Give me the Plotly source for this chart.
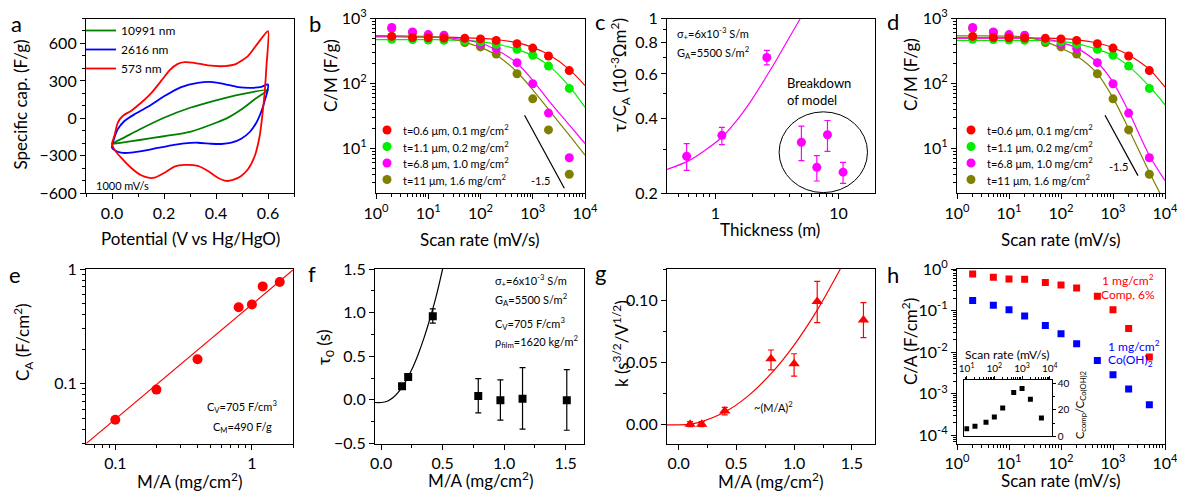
import plotly.graph_objects as go
import math

W, H = 1177, 494
FONT = "Lato"

# ---------------- data ----------------
# (a) CV loops at 1000 mV/s
cv_green_v = [0.0, 0.05, 0.1, 0.2, 0.3, 0.4, 0.5, 0.6, 0.55, 0.5, 0.45, 0.4, 0.3, 0.2, 0.1, 0.05, 0.0]
cv_green_c = [-203, -150, -95, 5, 85, 145, 195, 228, 155, 75, 10, -35, -108, -143, -175, -190, -203]
cv_blue_v = [0, 0.009, 0.022, 0.048, 0.086, 0.138, 0.202, 0.266, 0.33, 0.388, 0.433, 0.485, 0.536, 0.575, 0.6,
             0.598, 0.587, 0.575, 0.555, 0.53, 0.497, 0.459, 0.42, 0.382, 0.33, 0.279, 0.228, 0.176, 0.125,
             0.073, 0.035, 0.009, 0]
cv_blue_c = [-235, -155, -88, -21, 32, 93, 179, 251, 285, 291, 275, 251, 245, 253, 272,
             219, 139, 59, -35, -109, -163, -195, -205, -203, -195, -200, -216, -237, -259,
             -275, -275, -253, -235]
cv_red_v = [0, 0.009, 0.022, 0.041, 0.073, 0.112, 0.15, 0.189, 0.221, 0.253, 0.279, 0.317, 0.369, 0.433,
            0.478, 0.523, 0.562, 0.6, 0.594, 0.587, 0.578, 0.568, 0.549, 0.523, 0.497, 0.465, 0.44, 0.407,
            0.369, 0.33, 0.279, 0.24, 0.202, 0.163, 0.144, 0.112, 0.073, 0.035, 0.009, 0]
cv_red_c = [-203, -141, -35, 19, 60, 125, 200, 300, 385, 437, 451, 445, 424, 419,
            437, 499, 605, 699, 419, 205, 19, -141, -301, -408, -461, -493, -501, -475,
            -421, -381, -373, -387, -435, -475, -477, -456, -395, -315, -248, -203]
cv_labels = ["10991 nm", "2616 nm", "573 nm"]

# (b, d) specific capacitance vs scan rate
scan = [2, 5, 10, 20, 50, 100, 200, 500, 1000, 2000, 5000]
cm_t06 = [530, 510, 505, 500, 495, 485, 460, 410, 350, 265, 158]
cm_t11 = [479, 475, 465, 462, 455, 436, 401, 336, 271, 185, 84]
cm_t68 = [726, 622, 566, 552, 465, 400, 344, 209, 99, 35, 7.2]
cm_t110 = [700, 608, 552, 520, 426, 365, 283, 141, 58, 19.3, 4.0]
series_labels = ["t=0.6 μm, 0.1 mg/cm<sup>2</sup>", "t=1.1 μm, 0.2 mg/cm<sup>2</sup>",
                 "t=6.8 μm, 1.0 mg/cm<sup>2</sup>", "t=11 μm, 1.6 mg/cm<sup>2</sup>"]
fit_x = [1, 3, 10, 20, 50, 100, 200, 500, 1000, 2000, 5000, 10000]
fitb_t06 = [525, 524, 520, 516, 505, 495, 475, 425, 360, 280, 165, 93]
fitb_t11 = [473, 473, 472, 470, 460, 440, 405, 335, 268, 190, 90, 43]
fitb_t68 = [525, 524, 520, 512, 470, 420, 330, 205, 112, 55, 23, 11.9]
fitb_t110 = [545, 542, 530, 510, 430, 360, 275, 150, 80, 40, 16, 7.9]
fitd_t06 = [505, 505, 505, 503, 498, 490, 470, 420, 355, 275, 165, 88]
fitd_t11 = [460, 460, 460, 459, 455, 445, 410, 335, 270, 185, 90, 47]
fitd_t68 = [500, 500, 500, 498, 480, 430, 350, 210, 105, 37, 7.8, 3.2]
fitd_t110_x = [1, 3, 10, 20, 50, 100, 200, 500, 1000, 2000, 5000, 8000]
fitd_t110 = [540, 540, 535, 520, 440, 350, 265, 142, 60, 20, 4.3, 2.04]
slope_b_x = [697, 4018]
slope_b_y = [32.4, 2.44]
slope_d_x = [702, 3020]
slope_d_y = [32.4, 3.82]
slope_b_lbl = (1393, 3.16)
slope_d_lbl = (1250, 5.27)

# (c) tau / C_A vs thickness
thick = [0.585, 1.13, 2.62, 5.0, 6.67, 8.14, 10.9]
tau_ca = [0.281, 0.341, 0.698, 0.32, 0.254, 0.343, 0.243]
tau_ca_hi = [0.035, 0.026, 0.047, 0.051, 0.029, 0.048, 0.023]
tau_ca_lo = [0.034, 0.028, 0.046, 0.050, 0.030, 0.049, 0.024]
fitc_x = [0.405, 0.6, 0.8, 1.13, 1.5, 2.0, 2.62, 3.2, 4.0, 4.9]
fitc_y = [0.249, 0.269, 0.294, 0.335, 0.392, 0.477, 0.59, 0.695, 0.842, 1.0]

# (e) areal capacitance vs mass loading
ma = [0.1, 0.2, 0.4, 0.8, 1.0, 1.2, 1.6]
ca = [0.0483, 0.0886, 0.163, 0.464, 0.49, 0.705, 0.769]
fite_x = [0.06, 2.0]
fite_y = [0.0294, 0.98]

# (f) tau0 vs mass loading
f_ma = [0.17, 0.22, 0.42, 0.79, 0.97, 1.15, 1.51]
tau0 = [0.155, 0.262, 0.959, 0.045, -0.005, 0.014, -0.005]
tau0_hi = [0, 0, 0.084, 0.198, 0.235, 0.355, 0.351]
tau0_lo = [0, 0, 0.080, 0.195, 0.228, 0.350, 0.343]
fitf_x = [-0.05, 0.0, 0.05, 0.1, 0.15, 0.2, 0.25, 0.3, 0.35, 0.4, 0.45, 0.5]
fitf_y = [-0.03, -0.03, -0.015, 0.03, 0.107, 0.214, 0.35, 0.518, 0.716, 0.944, 1.2, 1.5]

# (g) k vs mass loading
k_val = [0.0005, 0.0005, 0.011, 0.053, 0.049, 0.099, 0.084]
k_hi = [0.002, 0.002, 0.003, 0.007, 0.008, 0.016, 0.014]
k_lo = [0.002, 0.002, 0.003, 0.009, 0.010, 0.017, 0.014]
fitg_x = [-0.1, 0.0, 0.1, 0.2, 0.4, 0.6, 0.8, 1.0, 1.2, 1.4]
fitg_y = [0.0, 0.0, 0.0006, 0.0026, 0.0102, 0.023, 0.041, 0.064, 0.092, 0.125]

# (h) composite vs Co(OH)2
h_comp = [0.76, 0.63, 0.575, 0.565, 0.47, 0.41, 0.35, 0.22, 0.104, 0.037, 0.0076]
h_coh = [0.174, 0.134, 0.104, 0.074, 0.0437, 0.0275, 0.0158, 0.0063, 0.00286, 0.0013, 0.00054]
ratio_x = [10, 20, 50, 100, 200, 500, 1000, 2000, 5000]
ratio_y = [5.8, 7.6, 10.6, 14.7, 21.5, 33.2, 36.2, 28.1, 13.9]

C_RED, C_GRN, C_MAG, C_OLV = "#FF0000", "#00EE00", "#FF00FF", "#808000"

# ---------------- helpers ----------------
def X(px):
    return px / W

def Y(py):
    return 1 - py / H

def dx(a, b):
    return [X(a), X(b)]

def dy(top, bot):
    return [Y(bot), Y(top)]

def L(v):
    return math.log10(v)

def minors(decs, lo, hi):
    out = []
    for d in decs:
        for m in range(2, 10):
            v = m * 10 ** d
            if lo <= v <= hi:
                out.append(v)
    return out

TICK = 16
TITLE = 17

def axis(domain, anchor, **kw):
    base = dict(domain=domain, anchor=anchor, showline=True, linecolor="black", linewidth=1.2,
                mirror=True, ticks="outside", ticklen=5, tickwidth=1.2, tickcolor="black",
                showgrid=False, zeroline=False, automargin=False, ticklabeloverflow="allow",
                tickfont=dict(size=TICK, family=FONT, color="black"))
    base.update(kw)
    return base

def sup_labels(vals):
    return ["10<sup>%d</sup>" % round(L(v)) for v in vals]

fig = go.Figure()

# ---------------- panel a ----------------
for v, c, col, name in [(cv_green_v, cv_green_c, "#008000", cv_labels[0]),
                        (cv_blue_v, cv_blue_c, "#0000FF", cv_labels[1]),
                        (cv_red_v, cv_red_c, C_RED, cv_labels[2])]:
    fig.add_trace(go.Scatter(x=v, y=c, mode="lines", name=name, xaxis="x", yaxis="y",
                             line=dict(color=col, width=1.8, shape="spline", smoothing=0.6),
                             showlegend=True, legend="legend"))

# ---------------- panels b and d ----------------
cols = [C_RED, C_GRN, C_MAG, C_OLV]
pts = [cm_t06, cm_t11, cm_t68, cm_t110]
fits_b = [(fit_x, fitb_t06), (fit_x, fitb_t11), (fit_x, fitb_t68), (fit_x, fitb_t110)]
fits_d = [(fit_x, fitd_t06), (fit_x, fitd_t11), (fit_x, fitd_t68), (fitd_t110_x, fitd_t110)]
for xa, ya, fits, sx, sy in [("x2", "y2", fits_b, slope_b_x, slope_b_y),
                             ("x4", "y4", fits_d, slope_d_x, slope_d_y)]:
    for i in range(4):
        fig.add_trace(go.Scatter(x=fits[i][0], y=fits[i][1], mode="lines", xaxis=xa, yaxis=ya,
                                 line=dict(color=cols[i], width=1.2, shape="spline", smoothing=0.8),
                                 showlegend=False))
    for i in [3, 2, 1, 0]:
        fig.add_trace(go.Scatter(x=scan, y=pts[i], mode="markers", xaxis=xa, yaxis=ya,
                                 marker=dict(color=cols[i], size=9), showlegend=False))
    fig.add_trace(go.Scatter(x=sx, y=sy, mode="lines", xaxis=xa, yaxis=ya,
                             line=dict(color="black", width=1.2), showlegend=False))

# ---------------- panel c ----------------
fig.add_trace(go.Scatter(x=fitc_x, y=fitc_y, mode="lines", xaxis="x3", yaxis="y3",
                         line=dict(color=C_MAG, width=1.2, shape="spline", smoothing=0.8), showlegend=False))
fig.add_trace(go.Scatter(x=thick, y=tau_ca, mode="markers", xaxis="x3", yaxis="y3",
                         marker=dict(color=C_MAG, size=9),
                         error_y=dict(type="data", array=tau_ca_hi, arrayminus=tau_ca_lo,
                                      color=C_MAG, thickness=1.2, width=3),
                         showlegend=False))

# ---------------- panel e ----------------
fig.add_trace(go.Scatter(x=fite_x, y=fite_y, mode="lines", xaxis="x5", yaxis="y5",
                         line=dict(color=C_RED, width=1.2), showlegend=False))
fig.add_trace(go.Scatter(x=ma, y=ca, mode="markers", xaxis="x5", yaxis="y5",
                         marker=dict(color=C_RED, size=10), showlegend=False))

# ---------------- panel f ----------------
fig.add_trace(go.Scatter(x=fitf_x, y=fitf_y, mode="lines", xaxis="x6", yaxis="y6",
                         line=dict(color="black", width=1.2, shape="spline", smoothing=0.8), showlegend=False))
fig.add_trace(go.Scatter(x=f_ma, y=tau0, mode="markers", xaxis="x6", yaxis="y6",
                         marker=dict(color="black", size=8, symbol="square"),
                         error_y=dict(type="data", array=tau0_hi, arrayminus=tau0_lo,
                                      color="black", thickness=1.2, width=3),
                         showlegend=False))

# ---------------- panel g ----------------
fig.add_trace(go.Scatter(x=fitg_x, y=fitg_y, mode="lines", xaxis="x7", yaxis="y7",
                         line=dict(color=C_RED, width=1.2, shape="spline", smoothing=0.8), showlegend=False))
fig.add_trace(go.Scatter(x=ma, y=k_val, mode="markers", xaxis="x7", yaxis="y7",
                         marker=dict(color=C_RED, size=10, symbol="triangle-up"),
                         error_y=dict(type="data", array=k_hi, arrayminus=k_lo,
                                      color=C_RED, thickness=1.2, width=3),
                         showlegend=False))

# ---------------- panel h + inset ----------------
fig.add_trace(go.Scatter(x=scan, y=h_comp, mode="markers", xaxis="x8", yaxis="y8",
                         marker=dict(color=C_RED, size=7, symbol="square"), showlegend=False))
fig.add_trace(go.Scatter(x=scan, y=h_coh, mode="markers", xaxis="x8", yaxis="y8",
                         marker=dict(color="#0000FF", size=7, symbol="square"), showlegend=False))
fig.add_trace(go.Scatter(x=ratio_x, y=ratio_y, mode="markers", xaxis="x9", yaxis="y9",
                         marker=dict(color="black", size=5, symbol="square"), showlegend=False))

# ---------------- axes ----------------
dec_ticks = [1, 10, 100, 1000, 10000]
top_row = dy(18.5, 193.3)
bot_row = dy(269, 443.5)
mt = dict(ticks="outside", ticklen=3, tickcolor="black")
lay = {}
lay["xaxis"] = axis(dx(86, 294), "y", range=[-0.1, 0.7], dtick=0.2, tick0=0, tickformat=".1f",
                    minor=dict(dtick=0.1, **mt))
lay["yaxis"] = axis(top_row, "x", range=[-600, 800], dtick=300, tick0=0,
                    minor=dict(dtick=100, **mt))
for n, xd in [(2, dx(376, 585)), (4, dx(957, 1165))]:
    lay["xaxis%d" % n] = axis(xd, "y%d" % n, type="log", range=[0, 4], tickvals=dec_ticks,
                              ticktext=sup_labels(dec_ticks),
                              minor=dict(tickvals=minors(range(0, 4), 1, 1e4), **mt))
    lay["yaxis%d" % n] = axis(top_row, "x%d" % n, type="log", range=[L(2.04), 3],
                              tickvals=[10, 100, 1000], ticktext=sup_labels([10, 100, 1000]),
                              minor=dict(tickvals=minors(range(0, 3), 2.04, 1000), **mt))
lay["xaxis3"] = axis(dx(667, 875), "y3", type="log", range=[L(0.405), L(19.8)], tickvals=[1, 10],
                     ticktext=["1", "10"],
                     minor=dict(tickvals=minors([-1, 0, 1], 0.405, 19.8), **mt))
lay["yaxis3"] = axis(top_row, "x3", type="log", range=[L(0.2), 0], tickvals=[0.2, 0.4, 0.6, 0.8, 1],
                     ticktext=["0.2", "0.4", "0.6", "0.8", "1"],
                     minor=dict(tickvals=[0.3, 0.5, 0.7, 0.9], **mt))
lay["xaxis5"] = axis(dx(86, 293), "y5", type="log", range=[L(0.061), L(2.0)], tickvals=[0.1, 1],
                     ticktext=["0.1", "1"],
                     minor=dict(tickvals=minors([-2, -1, 0], 0.061, 2.0), **mt))
lay["yaxis5"] = axis(bot_row, "x5", type="log", range=[L(0.03), 0], tickvals=[0.1, 1],
                     ticktext=["0.1", "1"],
                     minor=dict(tickvals=minors([-2, -1], 0.03, 1.0), **mt))
lay["xaxis6"] = axis(dx(375, 584), "y6", range=[-0.05, 1.65], dtick=0.5, tick0=0, tickformat=".1f",
                     minor=dict(dtick=0.25, tick0=0, **mt))
lay["yaxis6"] = axis(bot_row, "x6", range=[-0.5, 1.5], dtick=0.5, tick0=0, tickformat=".1f",
                     minor=dict(dtick=0.25, tick0=0, **mt))
lay["xaxis7"] = axis(dx(667, 875), "y7", range=[-0.1, 1.7], dtick=0.5, tick0=0, tickformat=".1f",
                     minor=dict(dtick=0.25, tick0=0, **mt))
lay["yaxis7"] = axis(bot_row, "x7", range=[-0.015, 0.125], dtick=0.05, tick0=0, tickformat=".2f",
                     minor=dict(dtick=0.025, tick0=0, **mt))
lay["xaxis8"] = axis(dx(957, 1165), "y8", type="log", range=[0, 4], tickvals=dec_ticks,
                     ticktext=sup_labels(dec_ticks),
                     minor=dict(tickvals=minors(range(0, 4), 1, 1e4), **mt))
h_ticks = [1e-4, 1e-3, 1e-2, 1e-1, 1]
lay["yaxis8"] = axis(bot_row, "x8", type="log", range=[-4.2, 0], tickvals=h_ticks,
                     ticktext=["10<sup>-4</sup>", "10<sup>-3</sup>", "10<sup>-2</sup>",
                               "10<sup>-1</sup>", "10<sup>0</sup>"],
                     minor=dict(tickvals=minors([-5, -4, -3, -2, -1], 10 ** -4.2, 1), **mt))
inset_font = dict(size=10, family=FONT, color="black")
lay["xaxis9"] = axis(dx(964.3, 1051.7), "y9", type="log", range=[0.916, 4.07], side="top",
                     tickvals=[10, 100, 1000, 10000], ticktext=sup_labels([10, 100, 1000, 10000]),
                     tickfont=inset_font, ticklen=3, linewidth=1,
                     minor=dict(tickvals=minors([0, 1, 2, 3], 10 ** 0.916, 10 ** 4.07), ticks="outside",
                                ticklen=2, tickcolor="black"))
lay["yaxis9"] = axis(dy(380.3, 436.3), "x9", range=[0, 42.5], side="right", tickvals=[0, 20, 40],
                     tickfont=inset_font, ticklen=3, linewidth=1,
                     minor=dict(tickvals=[10, 30], ticks="outside", ticklen=2, tickcolor="black"))

# ---------------- annotations ----------------
ann = []

def txt(px, py, s, size=TITLE, xanchor="center", angle=0, color="black", yanchor="middle"):
    ann.append(dict(x=X(px), y=Y(py), xref="paper", yref="paper", text=s, showarrow=False,
                    xanchor=xanchor, yanchor=yanchor, textangle=angle,
                    font=dict(size=size, family=FONT, color=color)))

# panel letters
for lt, px, py in [("a", 16.7, 23), ("b", 315, 23), ("c", 600, 22), ("d", 893, 21),
                   ("e", 15, 274), ("f", 312, 273), ("g", 600, 272), ("h", 893, 274)]:
    txt(px, py, lt, size=22)

# axis titles
txt(190, 238, "Potential (V vs Hg/HgO)")
txt(19.5, 105, "Specific cap. (F/g)", angle=-90)
txt(480, 240, "Scan rate (mV/s)")
txt(330, 75, "C/M (F/g)", angle=-90)
txt(770, 229, "Thickness (m)")
txt(620, 75, "τ/C<sub>A</sub> (10<sup>-3</sup>Ωm<sup>2</sup>)", angle=-90)
txt(1061, 240, "Scan rate (mV/s)")
txt(910, 75, "C/M (F/g)", angle=-90)
txt(190, 480, "M/A (mg/cm<sup>2</sup>)")
txt(23, 342, "C<sub>A</sub> (F/cm<sup>2</sup>)", angle=-90)
txt(481, 479, "M/A (mg/cm<sup>2</sup>)")
txt(325, 347, "τ<sub>0</sub> (s)", angle=-90)
txt(771, 480, "M/A (mg/cm<sup>2</sup>)")
txt(620, 344, "k (s<sup>3/2</sup>/V<sup>1/2</sup>)", angle=-90)
txt(1061, 480, "Scan rate (mV/s)")
txt(909, 342, "C/A (F/cm<sup>2</sup>)", angle=-90)

# panel a text
txt(94, 185, "1000 mV/s", size=11, xanchor="left")

# legends of b and d (marker glyph + text)
shapes = []
rows_y = [130, 146.5, 163, 179.5]
for mx, tx in [(387, 401), (971, 985)]:
    for i in range(4):
        r = 4.5
        shapes.append(dict(type="circle", xref="paper", yref="paper",
                           x0=X(mx - r), x1=X(mx + r), y0=Y(rows_y[i] + r), y1=Y(rows_y[i] - r),
                           fillcolor=cols[i], line=dict(width=0)))
        txt(tx, rows_y[i], series_labels[i], size=11, xanchor="left")

# slope labels
for xa, ya, (lx, lyv) in [("x2", "y2", slope_b_lbl), ("x4", "y4", slope_d_lbl)]:
    ann.append(dict(x=L(lx), y=L(lyv), xref=xa, yref=ya, text="-1.5", showarrow=False,
                    font=dict(size=11, family=FONT, color="black")))

# panel c texts
txt(675, 33, "σ<sub>+</sub>=6x10<sup>-3</sup> S/m", size=11, xanchor="left")
txt(675, 52, "G<sub>A</sub>=5500 S/m<sup>2</sup>", size=11, xanchor="left")
txt(785, 83, "Breakdown", size=13, xanchor="left")
txt(785, 100, "of model", size=13, xanchor="left")
shapes.append(dict(type="circle", xref="x3 domain", yref="y3 domain", x0=0.539, x1=0.964, y0=0.004, y1=0.466,
                   line=dict(color="black", width=1)))

# panel e texts
txt(205, 406, "C<sub>V</sub>=705 F/cm<sup>3</sup>", size=11, xanchor="left")
txt(211, 427, "C<sub>M</sub>=490 F/g", size=11, xanchor="left")

# panel f texts
for i, s in enumerate(["σ<sub>+</sub>=6x10<sup>-3</sup> S/m", "G<sub>A</sub>=5500 S/m<sup>2</sup>",
                       "C<sub>V</sub>=705 F/cm<sup>3</sup>", "ρ<sub>film</sub>=1620 kg/m<sup>2</sup>"]):
    txt(493, [280.5, 299, 323.5, 341.5][i], s, size=11, xanchor="left")

# panel g text
txt(752, 406, "~(M/A)<sup>2</sup>", size=11, xanchor="left")

# panel h texts
txt(1128, 280, "1 mg/cm<sup>2</sup>", size=12, color="#FF0000")
txt(1128, 294, "Comp, 6%", size=12, color="#FF0000")
txt(1106, 346, "1 mg/cm<sup>2</sup>", size=12, color="#0000FF", xanchor="left")
txt(1106, 360, "Co(OH)<sub>2</sub>", size=12, color="#0000FF", xanchor="left")
txt(1007, 354, "Scan rate (mV/s)", size=12)
txt(1080, 405, "C<sub>comp</sub>/C<sub>Co(OH)2</sub>", size=11, angle=-90)

fig.update_layout(
    width=W, height=H, margin=dict(l=0, r=0, t=0, b=0, pad=0, autoexpand=False),
    paper_bgcolor="white", plot_bgcolor="white",
    font=dict(family=FONT, color="black"),
    annotations=ann, shapes=shapes,
    legend=dict(x=X(81), y=Y(16), xanchor="left", yanchor="top", bgcolor="rgba(0,0,0,0)",
                font=dict(size=12, family=FONT, color="black"), tracegroupgap=0),
    **lay,
)

fig.write_html("out.html", config={"displayModeBar": False},
               post_script="document.body.style.margin='0px';document.body.style.overflow='hidden';")
